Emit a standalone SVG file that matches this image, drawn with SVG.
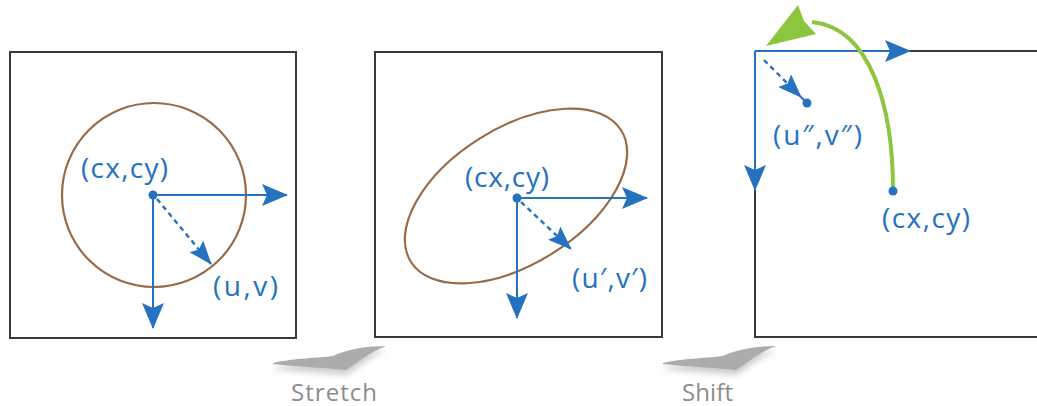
<svg xmlns="http://www.w3.org/2000/svg" width="1037" height="406" viewBox="0 0 1037 406">
<style>
.box{fill:none;stroke:#3a3a3a;stroke-width:2}
.ax{stroke:#2472c0;stroke-width:2;fill:none}
.dash{stroke:#2472c0;stroke-width:2.4;fill:none;stroke-dasharray:5 4}
.lbl{font-family:"Open Sans","Noto Sans",sans-serif;font-size:28px;fill:#2472c0}
.cap{font-family:"Open Sans","Noto Sans",sans-serif;font-size:24px;fill:#8c8c8c}
.dot{fill:#2472c0}
.sw{fill:#acacac}
</style>
<defs>
<marker id="ah" markerUnits="userSpaceOnUse" markerWidth="26" markerHeight="24" viewBox="0 0 26 24" refX="25" refY="12" orient="auto">
<path d="M0,1 L26,12 L0,23 L5,12 Z" fill="#2472c0"/>
</marker>
<marker id="ahs" markerUnits="userSpaceOnUse" markerWidth="24" markerHeight="18" viewBox="0 0 24 18" refX="23" refY="9" orient="auto">
<path d="M0,0 L24,9 L0,18 L4,9 Z" fill="#2472c0"/>
</marker>
<filter id="bl" x="-20%" y="-50%" width="140%" height="200%"><feGaussianBlur stdDeviation="3"/></filter>
<path id="swoosh" d="M273,363 C295,358 320,358 333,356 C345,350 365,346 386,346 C370,352 358,362 346,370 C330,368 300,367 273,364 Z"/>
</defs>

<g id="panel1">
<rect class="box" x="10" y="52" width="286" height="286"/>
<circle cx="154" cy="195" r="92" fill="none" stroke="#976b48" stroke-width="2.2"/>
</g>
<g id="panel2">
<rect class="box" x="375" y="52" width="287" height="285"/>
<ellipse cx="516" cy="196" rx="124" ry="68" transform="rotate(-32 516 196)" fill="none" stroke="#976b48" stroke-width="2.2"/>
</g>
<g id="panel3">
<path class="box" d="M910,51 H1037 M755,190 V337 H1037"/>
</g>

<g id="connectors">
<line class="ax" x1="153" y1="195" x2="287" y2="195" marker-end="url(#ah)"/>
<line class="ax" x1="153" y1="195" x2="153" y2="328" marker-end="url(#ah)"/>
<line class="dash" x1="157" y1="199" x2="211" y2="264" marker-end="url(#ahs)"/>

<line class="ax" x1="517" y1="198" x2="647" y2="198" marker-end="url(#ah)"/>
<line class="ax" x1="517" y1="198" x2="517" y2="318" marker-end="url(#ah)"/>
<line class="dash" x1="521" y1="202" x2="571" y2="249" marker-end="url(#ahs)"/>

<line class="ax" x1="755" y1="51" x2="910" y2="51" marker-end="url(#ah)"/>
<line class="ax" x1="755" y1="51" x2="755" y2="190" marker-end="url(#ah)"/>
<line class="dash" x1="764" y1="60" x2="801" y2="97" marker-end="url(#ahs)"/>
<line class="ax" x1="798" y1="94" x2="807" y2="103"/>

<path d="M893,190 C893,110 872,28 812,22" fill="none" stroke="#8cc63f" stroke-width="4"/>
<path d="M766,46 L798,5 L804,21 L816,34 Z" fill="#8cc63f"/>
</g>

<g id="points">
<circle class="dot" cx="153" cy="195" r="4.5"/>
<circle class="dot" cx="517" cy="198" r="4.5"/>
<circle class="dot" cx="807" cy="103" r="4.5"/>
<circle class="dot" cx="893" cy="191" r="4.5"/>
</g>

<g id="labels">
<text class="lbl" x="81" y="178" textLength="87">(cx,cy)</text>
<text class="lbl" x="213" y="296" textLength="65">(u,v)</text>
<text class="lbl" x="465" y="187" textLength="84">(cx,cy)</text>
<text class="lbl" x="572" y="288" textLength="75">(u′,v′)</text>
<text class="lbl" x="773" y="145" textLength="89">(u″,v″)</text>
<text class="lbl" x="882" y="228" textLength="88">(cx,cy)</text>
</g>

<g id="stretch">
<use href="#swoosh" fill="#999" opacity="0.5" filter="url(#bl)" transform="translate(0,5)"/>
<use href="#swoosh" class="sw"/>
<text class="cap" x="291" y="401" textLength="86">Stretch</text>
</g>
<g id="shift">
<use href="#swoosh" fill="#999" opacity="0.5" filter="url(#bl)" transform="translate(390,5)"/>
<use href="#swoosh" class="sw" transform="translate(390,0)"/>
<text class="cap" x="682" y="401" textLength="51">Shift</text>
</g>
</svg>
